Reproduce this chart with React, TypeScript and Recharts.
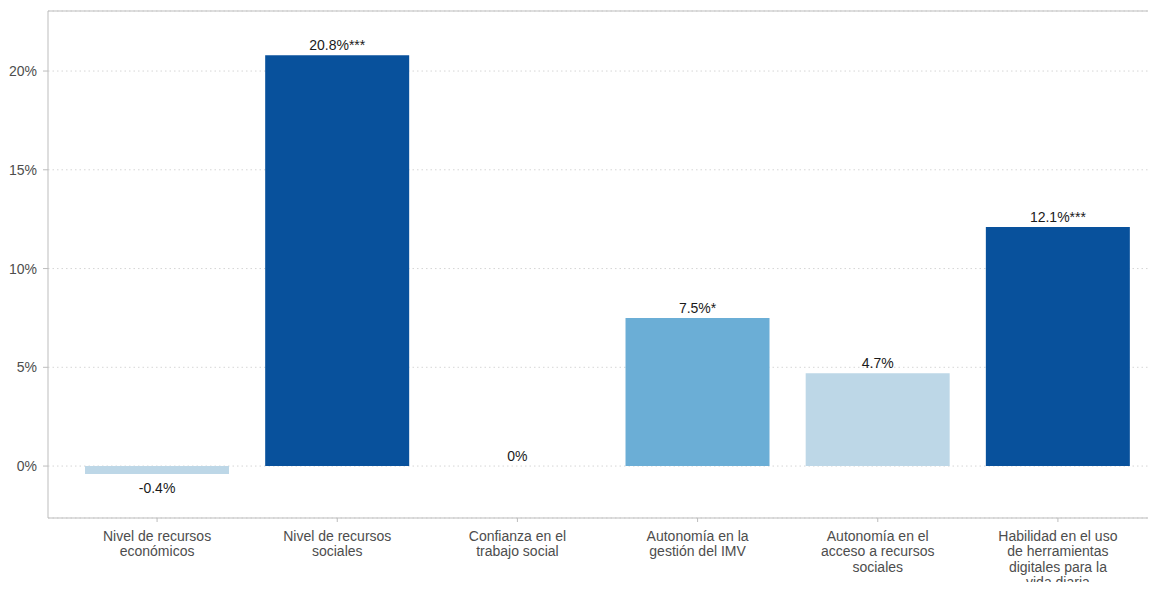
import React from "react";
import { ComposedChart, Bar, Line, XAxis, YAxis, CartesianGrid, Cell, LabelList, ReferenceLine } from "recharts";

const categories = [
  "Nivel de recursos\necon\u00f3micos",
  "Nivel de recursos\nsociales",
  "Confianza en el\ntrabajo social",
  "Autonom\u00eda en la\ngesti\u00f3n del IMV",
  "Autonom\u00eda en el\nacceso a recursos\nsociales",
  "Habilidad en el uso\nde herramientas\ndigitales para la\nvida diaria",
];
const values = [-0.4, 20.8, 0, 7.5, 4.7, 12.1];
const valueLabels = ["-0.4%", "20.8%***", "0%", "7.5%*", "4.7%", "12.1%***"];
const barColors = ["#bdd7e7", "#08519c", "#bdd7e7", "#6baed6", "#bdd7e7", "#08519c"];
const yTicks = [0, 5, 10, 15, 20];
const yDomain = [-2.63, 23.04];

const data = categories.map((name, i) => ({ name, value: values[i], label: valueLabels[i] }));

const FONT = "'Liberation Sans', Arial, sans-serif";

const XTick = (props: any) => {
  const { x, y, payload } = props;
  const lines = String(payload.value).split("\n");
  return (
    <text x={x} y={y} textAnchor="middle" fill="#4d4d4d" fontSize={14} fontFamily={FONT}>
      {lines.map((l, i) => (
        <tspan key={i} x={x} dy={i === 0 ? 16.5 : 15.6}>
          {l}
        </tspan>
      ))}
    </text>
  );
};

const ValueLabel = (props: any) => {
  const { x, y, index, value } = props;
  const v = values[index];
  const ty = v >= 0 ? y - 5 : y + 19;
  return (
    <text x={x} y={ty} textAnchor="middle" fill="#1a1a1a" fontSize={14} fontFamily={FONT}>
      {value}
    </text>
  );
};

export default function App() {
  return (
    <div style={{ margin: -8, width: 1156, height: 590, overflow: "hidden", background: "#fff" }}>
      <ComposedChart
        width={1170}
        height={590}
        data={data}
        margin={{ top: 11, right: 3, bottom: 0, left: 0 }}
        barCategoryGap="10%"
      >
        <CartesianGrid vertical={false} stroke="#d6d6d6" strokeDasharray="1.5 3" />
        <XAxis
          dataKey="name"
          height={72}
          interval={0}
          padding={{ left: 19, right: 19 }}
          tick={<XTick />}
          tickSize={4}
          tickMargin={2}
          axisLine={{ stroke: "#bdbdbd" }}
          tickLine={{ stroke: "#bdbdbd" }}
        />
        <YAxis
          width={48}
          type="number"
          domain={yDomain}
          allowDataOverflow
          ticks={yTicks}
          tickFormatter={(v: number) => `${v}%`}
          tick={{ fill: "#4d4d4d", fontSize: 14, fontFamily: FONT }}
          tickSize={5}
          tickMargin={6}
          axisLine={{ stroke: "#bdbdbd" }}
          tickLine={{ stroke: "#bdbdbd" }}
        />
        <ReferenceLine y={yDomain[1]} stroke="#bdbdbd" strokeWidth={1} ifOverflow="visible" />
        <Bar dataKey="value" isAnimationActive={false}>
          {data.map((d, i) => (
            <Cell key={i} fill={barColors[i]} />
          ))}
        </Bar>
        <Line dataKey="value" stroke="none" dot={false} activeDot={false} isAnimationActive={false}>
          <LabelList dataKey="label" content={<ValueLabel />} />
        </Line>
      </ComposedChart>
    </div>
  );
}
